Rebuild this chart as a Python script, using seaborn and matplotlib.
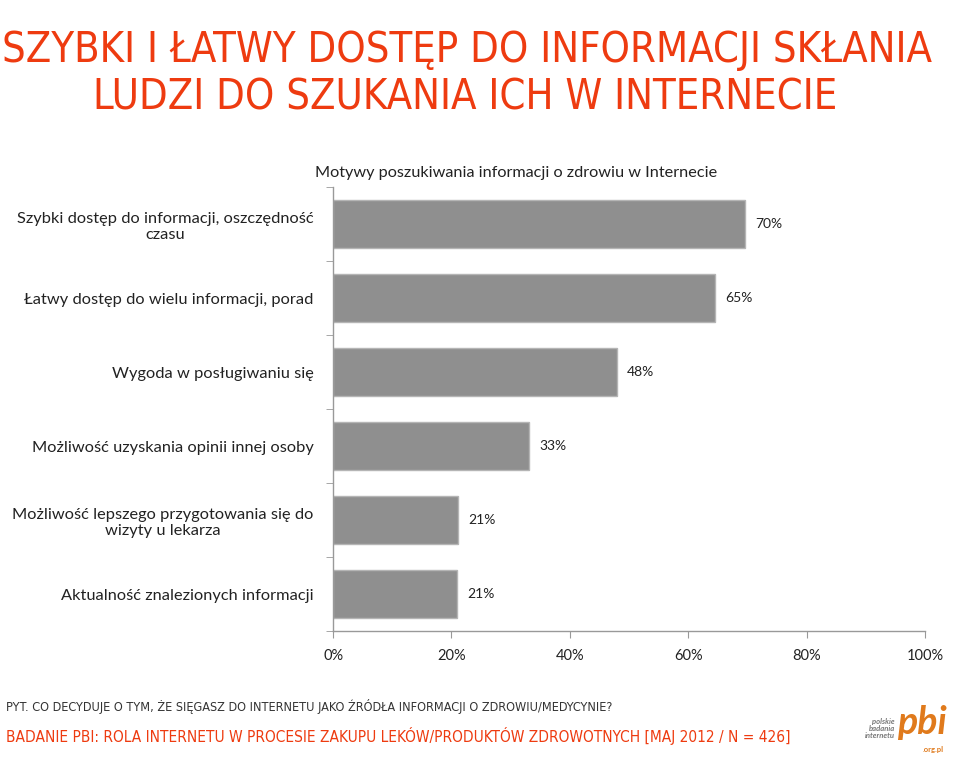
import pandas as pd
import matplotlib.pyplot as plt
import seaborn as sns

categories = [
    "Szybki dostęp do informacji, oszczędność\nczasu",
    "Łatwy dostęp do wielu informacji, porad",
    "Wygoda w posługiwaniu się",
    "Możliwość uzyskania opinii innej osoby",
    "Możliwość lepszego przygotowania się do\nwizyty u lekarza",
    "Aktualność znalezionych informacji",
]
values = [69.6, 64.6, 48.0, 33.1, 21.1, 20.9]
xticks = [0, 20, 40, 60, 80, 100]

ORANGE = "#ee3b10"
NARROW = dict(family="DejaVu Sans", fontstretch="condensed")

sns.set_style("white")
plt.rcParams["font.family"] = ["Lato", "DejaVu Sans"]

df = pd.DataFrame({"motyw": categories, "pct": values})

fig = plt.figure(figsize=(9.6, 7.59), dpi=100)
ax = fig.add_axes([0.347, 0.1686, 0.9635 - 0.347, 0.7536 - 0.1686])
sns.barplot(data=df, x="pct", y="motyw", orient="h", color="#8f8f8f",
            saturation=1, width=0.64, edgecolor="#b5b5b5", linewidth=1, ax=ax)

for i, v in enumerate(values):
    ax.text(v + 1.7, i, f"{round(v)}%", va="center", ha="left", fontsize=10, color="#222222")

ax.set_xlim(0, 100)
ax.set_ylim(len(categories) - 0.5, -0.5)
ax.set_xticks(xticks)
ax.set_xticklabels([f"{t}%" for t in xticks], fontsize=10.5, color="#222222")
ax.set_yticks(range(len(categories)))
ax.set_yticklabels(categories, fontsize=11.8, color="#222222", ha="right", multialignment="center")
ax.tick_params(axis="y", length=0, pad=14)
ax.tick_params(axis="x", length=5, color="#999999", direction="out", bottom=True, pad=8)
ax.set_yticks([i + 0.5 for i in range(-1, len(categories))], minor=True)
ax.tick_params(axis="y", which="minor", length=5, color="#999999", left=True, direction="out")
ax.set_xlabel("")
ax.set_ylabel("")
for s in ["top", "right"]:
    ax.spines[s].set_visible(False)
for s in ["left", "bottom"]:
    ax.spines[s].set_color("#999999")
    ax.spines[s].set_linewidth(1)

fig.text(0.538, 0.772, "Motywy poszukiwania informacji o zdrowiu w Internecie",
         ha="center", va="center", fontsize=11.7, color="#222222")

fig.text(0.486, 0.934, "SZYBKI I ŁATWY DOSTĘP DO INFORMACJI SKŁANIA",
         ha="center", va="center", fontsize=29.9, color=ORANGE, **NARROW)
fig.text(0.484, 0.872, "LUDZI DO SZUKANIA ICH W INTERNECIE",
         ha="center", va="center", fontsize=29.9, color=ORANGE, **NARROW)

fig.text(0.006, 0.069, "PYT. CO DECYDUJE O TYM, ŻE SIĘGASZ DO INTERNETU JAKO ŹRÓDŁA INFORMACJI O ZDROWIU/MEDYCYNIE?",
         ha="left", va="center", fontsize=9.1, color="#333333", **NARROW)
fig.text(0.006, 0.030, "BADANIE PBI: ROLA INTERNETU W PROCESIE ZAKUPU LEKÓW/PRODUKTÓW ZDROWOTNYCH [MAJ 2012 / N = 426]",
         ha="left", va="center", fontsize=11.1, color=ORANGE, **NARROW)

# logo
fig.text(0.932, 0.040, "polskie\nbadania\ninternetu", ha="right", va="center",
         fontsize=5.5, color="#777777", style="italic", fontweight="bold", linespacing=0.95)
fig.text(0.934, 0.048, "pbi", ha="left", va="center", fontsize=27, color="#e07a1c",
         style="italic", fontweight="bold")
fig.text(0.972, 0.012, ".org.pl", ha="center", va="center", fontsize=5.5, color="#e07a1c",
         fontweight="bold")

fig.savefig("out.png", dpi=100)
